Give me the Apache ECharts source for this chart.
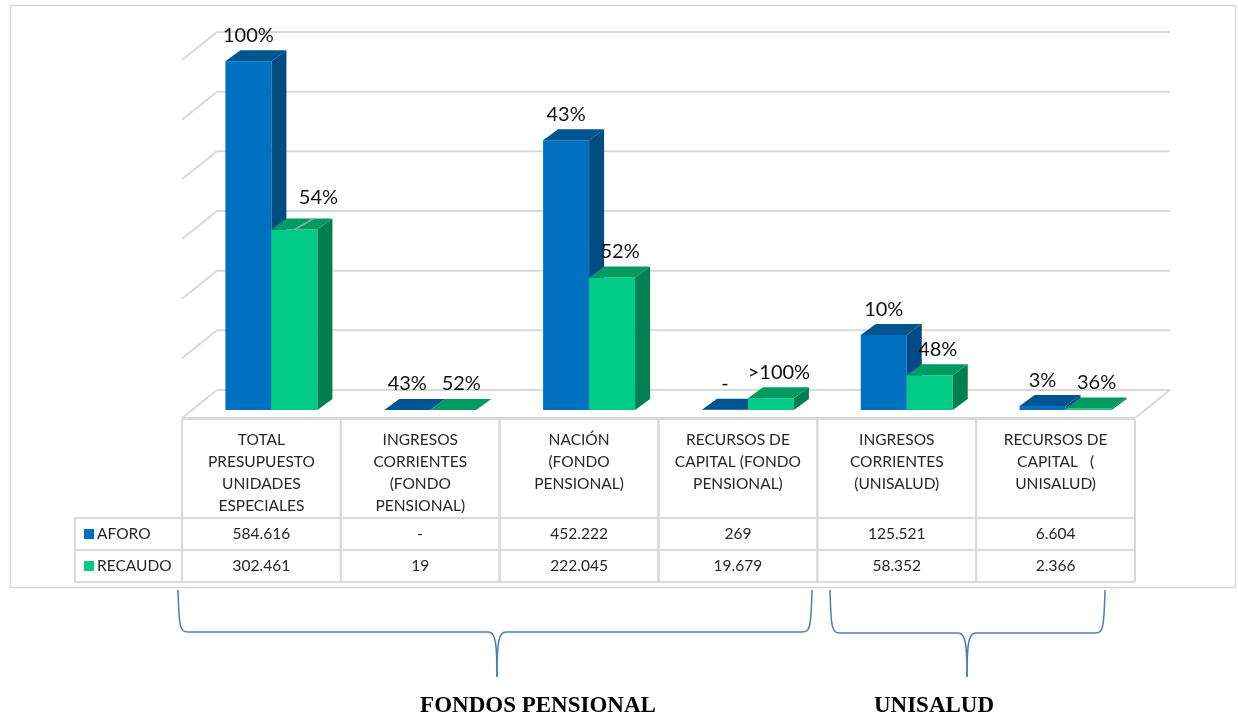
<!DOCTYPE html>
<html>
<head>
<meta charset="utf-8">
<script src="https://cdn.jsdelivr.net/npm/echarts@6/dist/echarts.min.js"></script>
<style>
  html, body { margin: 0; background: #fff; }
  #chart { width: 1238px; height: 717px; }
</style>
</head>
<body>
<div id="chart"></div>
<script>
// data
const categories = [
    "TOTAL\nPRESUPUESTO\nUNIDADES\nESPECIALES",
    "INGRESOS\nCORRIENTES\n(FONDO\nPENSIONAL)",
    "NACIÓN\n(FONDO\nPENSIONAL)",
    "RECURSOS DE\nCAPITAL (FONDO\nPENSIONAL)",
    "INGRESOS\nCORRIENTES\n(UNISALUD)",
    "RECURSOS DE\nCAPITAL   (\nUNISALUD)"
];
const aforo = [584616, 0, 452222, 269, 125521, 6604];
const recaudo = [302461, 19, 222045, 19679, 58352, 2366];
const aforoPct = ["100%", "43%", "43%", "-", "10%", "3%"];
const recaudoPct = ["54%", "52%", "52%", ">100%", "48%", "36%"];
const yTicks = [0, 100000, 200000, 300000, 400000, 500000, 600000];
const groupNames = ["FONDOS PENSIONAL", "UNISALUD"];

// layout / style
const GRID_LEFT = 192, GRID_RIGHT = 93, GRID_TOP = 52, GRID_BOTTOM = 307;
const BAR_W = 46, DEPTH = [15, -11];
const BACK = [25, -20], FRONT = [-10, 8];
const TABLE_TOP = 419, HEADER_H = 99, ROW_H = 32;
const LINE = "#d9d9d9";
const TXT = "#262626";
const FONT = "Lato";
const BLUE = { front: "#0070C0", top: "#00548F", side: "#004B82" };
const GREEN = { front: "#00CC88", top: "#009A62", side: "#008052" };
// the one label Excel dragged aside, with a leader line back to its bar
const MOVED_LABEL = { series: "RECAUDO", index: 0, dx: 16, dy: -6 };

function fmt(v) {
    if (v === 0) return "-";
    return String(v).replace(/\B(?=(\d{3})+(?!\d))/g, ".");
}

function seg(x1, y1, x2, y2, w, color) {
    return { type: "line", shape: { x1, y1, x2, y2 }, style: { stroke: color || LINE, lineWidth: w || 2 } };
}

function frameItem(params, api) {
    const cs = params.coordSys;
    const L = cs.x, R = cs.x + cs.width;
    const v = api.value(1);
    const y = api.coord([0, v])[1];
    const by = y + BACK[1];
    const fy = y + FRONT[1];
    const children = [
        seg(L + BACK[0], by, R + BACK[0], by),
        seg(L + BACK[0], by, L + FRONT[0], fy)
    ];
    if (v === 0) {
        children.push(seg(L + FRONT[0], fy, R + FRONT[0], fy));
        children.push(seg(R + BACK[0], by, R + FRONT[0], fy));
    }
    return { type: "group", children };
}

function barSeries(name, values, pcts, col, side) {
    return {
        type: "custom",
        name: name,
        z: 3,
        data: values.map((v, i) => [i, v]),
        renderItem(params, api) {
            const i = api.value(0);
            const top = api.coord([i, api.value(1)]);
            const base = api.coord([i, 0]);
            const x0 = side < 0 ? top[0] - BAR_W : top[0];
            const x1 = x0 + BAR_W;
            const yt = top[1], yb = base[1];
            const dx = DEPTH[0], dy = DEPTH[1];
            let lx = (x0 + x1) / 2 + (side > 0 ? 8 : 0);
            let ly = yt + dy - 15;
            const children = [
                { type: "polygon", shape: { points: [[x0, yt], [x1, yt], [x1, yb], [x0, yb]] }, style: { fill: col.front } },
                { type: "polygon", shape: { points: [[x1, yt], [x1 + dx, yt + dy], [x1 + dx, yb + dy], [x1, yb]] }, style: { fill: col.side } },
                { type: "polygon", shape: { points: [[x0, yt], [x0 + dx, yt + dy], [x1 + dx, yt + dy], [x1, yt]] }, style: { fill: col.top } }
            ];
            if (name === MOVED_LABEL.series && i === MOVED_LABEL.index) {
                lx += MOVED_LABEL.dx;
                ly += MOVED_LABEL.dy;
                children.push(seg((x0 + x1) / 2, yt, lx - 5, yt + dy, 1.5, "#a6a6a6"));
            }
            children.push({
                type: "text",
                style: {
                    text: pcts[i], x: lx, y: ly,
                    align: "center", verticalAlign: "middle",
                    font: "20px " + FONT, fill: "#111"
                }
            });
            return { type: "group", children };
        }
    };
}

function tableItem(params, api) {
    const i = api.value(0);
    const c = api.coord([i, 0]);
    const cw = api.size([1, 0])[0];
    const x0 = c[0] - cw / 2 + FRONT[0], x1 = x0 + cw;
    const xm = (x0 + x1) / 2;
    const r1 = TABLE_TOP + HEADER_H, r2 = r1 + ROW_H, r3 = r2 + ROW_H;
    const children = [
        seg(x0, TABLE_TOP, x0, r3),
        seg(x1, TABLE_TOP, x1, r3),
        seg(x0, TABLE_TOP, x1, TABLE_TOP),
        seg(x0, r1, x1, r1),
        seg(x0, r2, x1, r2),
        seg(x0, r3, x1, r3),
        {
            type: "text",
            style: {
                text: categories[i], x: xm, y: TABLE_TOP + 10, align: "center", verticalAlign: "top",
                font: "15.5px " + FONT, lineHeight: 22, fill: TXT
            }
        },
        { type: "text", style: { text: fmt(aforo[i]), x: xm, y: r1 + ROW_H / 2, align: "center", verticalAlign: "middle", font: "15.5px " + FONT, fill: TXT } },
        { type: "text", style: { text: fmt(recaudo[i]), x: xm, y: r2 + ROW_H / 2, align: "center", verticalAlign: "middle", font: "15.5px " + FONT, fill: TXT } }
    ];
    return { type: "group", children };
}

// legend cells left of the table
const TABLE_LEFT = GRID_LEFT + FRONT[0];
const LEG_LEFT = 75;
const legendGraphics = [];
[["AFORO", BLUE.front], ["RECAUDO", GREEN.front]].forEach((row, k) => {
    const y = TABLE_TOP + HEADER_H + k * ROW_H;
    legendGraphics.push({ type: "rect", shape: { x: LEG_LEFT, y: y, width: TABLE_LEFT - LEG_LEFT, height: ROW_H }, style: { fill: null, stroke: LINE, lineWidth: 2 } });
    legendGraphics.push({ type: "rect", shape: { x: LEG_LEFT + 9, y: y + 11, width: 10, height: 10 }, style: { fill: row[1] } });
    legendGraphics.push({ type: "text", x: LEG_LEFT + 22, y: y + ROW_H / 2, style: { text: row[0], font: "15.5px " + FONT, fill: TXT, verticalAlign: "middle" } });
});

// curly braces under the table
const BRACE = "#4A7EBB";
function brace(xl, xr, xm, yt, yh, ytip) {
    const bs = (x1, y1, cpx1, cpy1, cpx2, cpy2, x2, y2) => ({
        type: "bezierCurve", shape: { x1, y1, cpx1, cpy1, cpx2, cpy2, x2, y2 },
        style: { stroke: BRACE, lineWidth: 1.5, fill: null }
    });
    const ln = (x1, y1, x2, y2) => ({ type: "line", shape: { x1, y1, x2, y2 }, style: { stroke: BRACE, lineWidth: 1.5 } });
    return [
        bs(xl, yt, xl + 1, yh - 4, xl + 2, yh, xl + 10, yh),
        ln(xl + 10, yh, xm - 9, yh),
        bs(xm - 9, yh, xm - 2, yh, xm, yh + 8, xm, ytip),
        bs(xm, ytip, xm, yh + 8, xm + 2, yh, xm + 9, yh),
        ln(xm + 9, yh, xr - 10, yh),
        bs(xr - 10, yh, xr - 2, yh, xr - 1, yh - 4, xr, yt)
    ];
}

const chart = echarts.init(document.getElementById("chart"));
chart.setOption({
    animation: false,
    backgroundColor: "#fff",
    grid: { left: GRID_LEFT, right: GRID_RIGHT, top: GRID_TOP, bottom: GRID_BOTTOM },
    xAxis: {
        type: "category", data: categories,
        axisLine: { show: false }, axisTick: { show: false }, axisLabel: { show: false }, splitLine: { show: false }
    },
    yAxis: {
        type: "value", min: 0, max: 600000, interval: 100000,
        axisLine: { show: false }, axisTick: { show: false }, axisLabel: { show: false }, splitLine: { show: false }
    },
    graphic: [
        { type: "rect", shape: { x: 10.5, y: 5.5, width: 1225, height: 582 }, style: { fill: null, stroke: LINE, lineWidth: 1.5 }, z: -1 },
        ...legendGraphics,
        ...brace(178, 812, 497, 590, 632, 677),
        ...brace(830, 1105, 967, 590, 633, 677),
        { type: "text", x: 538, y: 706, style: { text: groupNames[0], font: "bold 23px 'Liberation Serif'", fill: "#000", align: "center", verticalAlign: "middle" } },
        { type: "text", x: 934, y: 706, style: { text: groupNames[1], font: "bold 23px 'Liberation Serif'", fill: "#000", align: "center", verticalAlign: "middle" } }
    ],
    series: [
        { type: "custom", name: "frame", silent: true, z: 1, data: yTicks.map(v => [0, v]), renderItem: frameItem },
        { type: "custom", name: "table", silent: true, z: 1, data: categories.map((c, i) => [i, 0]), renderItem: tableItem },
        barSeries("AFORO", aforo, aforoPct, BLUE, -1),
        barSeries("RECAUDO", recaudo, recaudoPct, GREEN, 1)
    ]
});
</script>
</body>
</html>
